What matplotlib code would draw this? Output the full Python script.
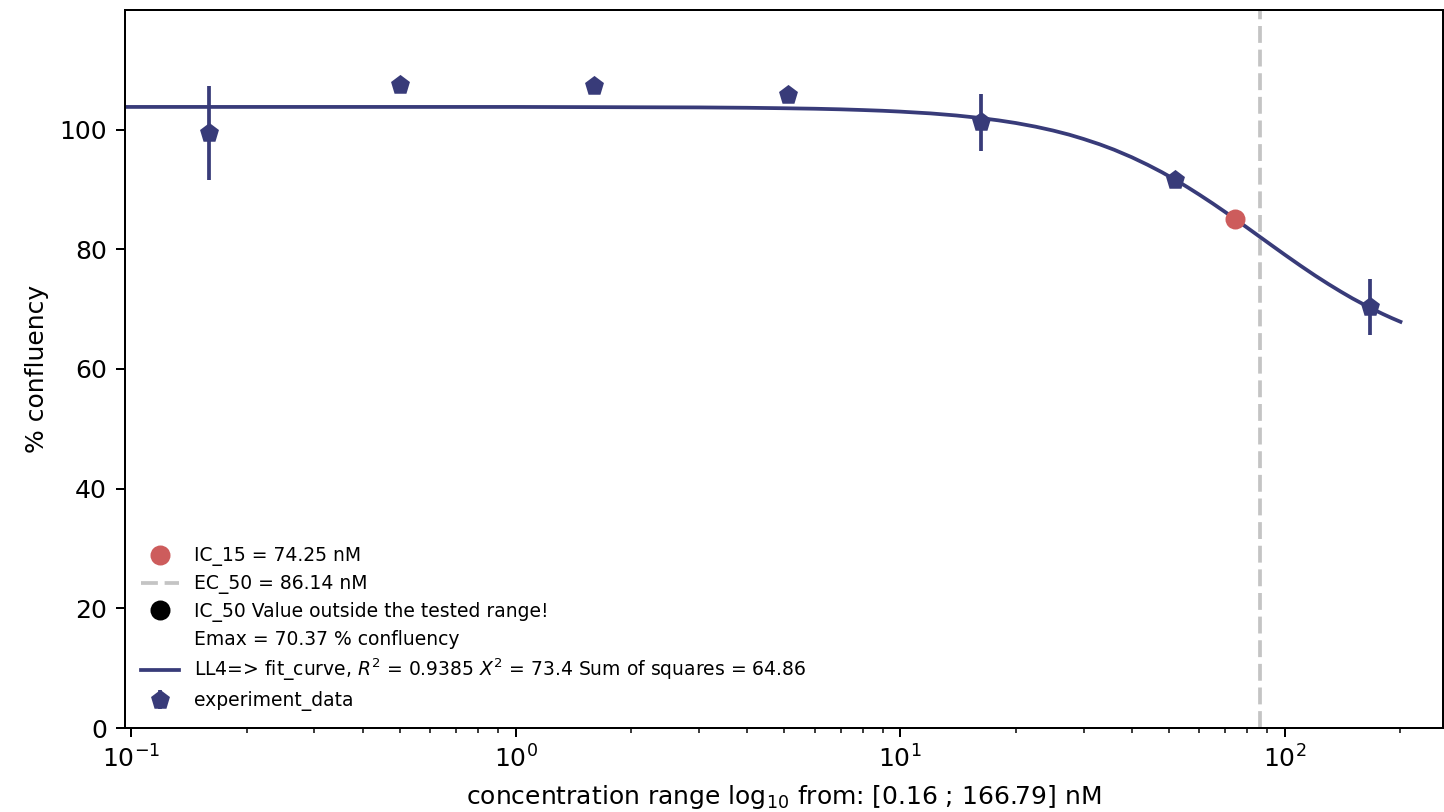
import matplotlib
matplotlib.use('Agg')
import matplotlib.pyplot as plt
from matplotlib.lines import Line2D

# experiment points
conc = [0.16, 0.5, 1.6, 5.1, 16.2, 52.0, 166.79]
confl = [99.5, 107.4, 107.3, 105.8, 101.2, 91.6, 70.4]
confl_err = [7.85, 0.4, 1.1, 0.4, 4.8, 0.6, 4.7]

# fitted LL4 curve
fit_x = [0.0962, 0.3, 1.0, 3.0, 4.0, 5.0, 6.0, 7.0, 8.0, 9.0, 10.0, 12.0, 14.0,
         16.0, 18.0, 20.0, 22.5, 25.0, 27.5, 30.0, 33.0, 36.0, 40.0, 44.0, 48.0,
         52.0, 56.0, 60.0, 65.0, 70.0, 74.25, 80.0, 86.14, 93.0, 100.0, 110.0,
         120.0, 130.0, 140.0, 150.0, 166.79, 180.0, 190.0, 200.0]
fit_y = [103.8, 103.8, 103.8, 103.72, 103.66, 103.58, 103.5, 103.4, 103.28,
         103.16, 103.02, 102.72, 102.37, 101.98, 101.56, 101.11, 100.5, 99.85,
         99.17, 98.44, 97.56, 96.65, 95.4, 94.13, 92.87, 91.6, 90.35, 89.13,
         87.66, 86.24, 85.08, 83.59, 82.1, 80.56, 79.11, 77.25, 75.61, 74.18,
         72.92, 71.8, 70.22, 69.19, 68.5, 67.89]

ic15_x, ic15_y = 74.25, 85.0
ec50 = 86.14

navy = '#383b79'

fig = plt.figure(figsize=(1444 / 180, 812 / 180), dpi=180)
ax = fig.add_axes([124.5 / 1444, 84 / 812, (1443 - 124.5) / 1444, 718 / 812])

h_ic15, = ax.plot([ic15_x], [ic15_y], 'o', color='#cd5c5c', markersize=7, zorder=4)
h_ec50 = ax.axvline(ec50, color='#c4c4c4', lw=1.5, linestyle=(0, (4.5, 1.8)), zorder=1)
h_ic50 = Line2D([], [], marker='o', color='black', linestyle='none', markersize=7)
h_emax = Line2D([], [], linestyle='none', marker=None)
h_fit, = ax.plot(fit_x, fit_y, color=navy, lw=1.5, zorder=2)
h_exp = ax.errorbar(conc, confl, yerr=confl_err, fmt='p', color=navy, ecolor=navy,
                    elinewidth=1.5, markersize=7, capsize=0, zorder=3)

ax.set_xscale('log')
ax.set_xlim(0.0962, 258)
ax.set_ylim(0, 120)
ax.set_yticks([0, 20, 40, 60, 80, 100])
ax.set_ylabel('% confluency')
ax.set_xlabel('concentration range log$_{10}$ from: [0.16 ; 166.79] nM')

ax.legend([h_ic15, h_ec50, h_ic50, h_emax, h_fit, h_exp],
          ['IC_15 = 74.25 nM', 'EC_50 = 86.14 nM', 'IC_50 Value outside the tested range!',
           'Emax = 70.37 % confluency',
           'LL4=> fit_curve, $R^2$ = 0.9385 $X^2$ = 73.4 Sum of squares = 64.86',
           'experiment_data'],
          loc='lower left', frameon=False, fontsize=7.5, labelspacing=0.42)

plt.savefig('out.png', dpi=180)
